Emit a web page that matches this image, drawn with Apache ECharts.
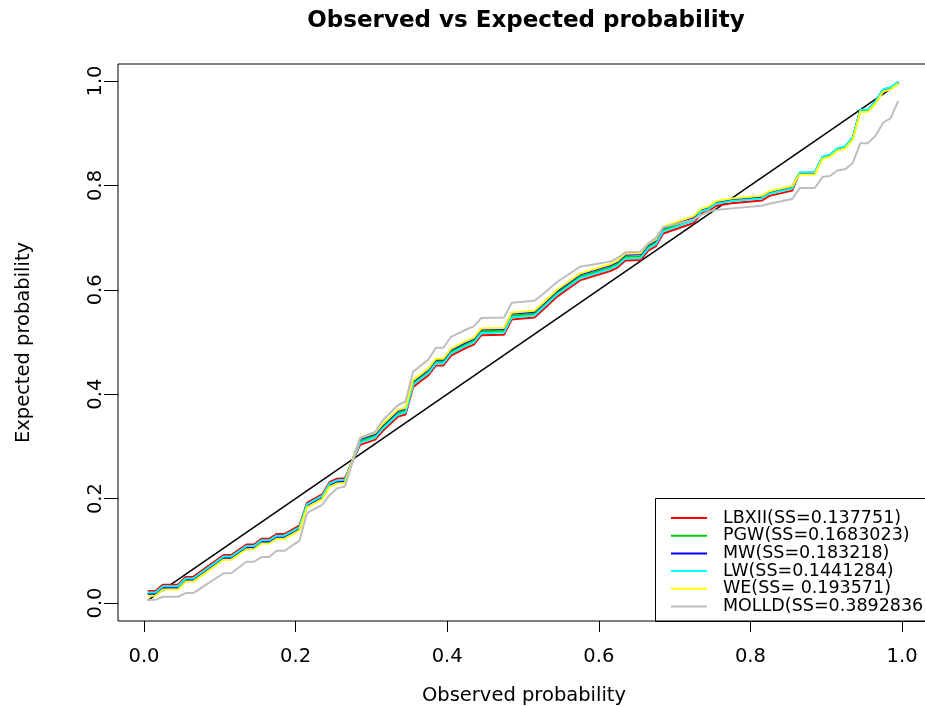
<!DOCTYPE html>
<html>
<head>
<meta charset="utf-8">
<script src="https://cdn.jsdelivr.net/npm/echarts@6/dist/echarts.min.js"></script>
<style>
  html, body { margin: 0; padding: 0; background: #fff; }
  #chart { width: 925px; height: 706px; }
</style>
</head>
<body>
<div id="chart"></div>
<script>
// Observed probability at each vertex of the P-P curves
const observed = [0.005, 0.015, 0.025, 0.045, 0.055, 0.065, 0.105, 0.115, 0.135, 0.145,
  0.155, 0.165, 0.175, 0.185, 0.205, 0.215, 0.235, 0.245, 0.255, 0.265,
  0.285, 0.305, 0.315, 0.335, 0.345, 0.355, 0.375, 0.385, 0.395, 0.405,
  0.425, 0.435, 0.445, 0.475, 0.485, 0.515, 0.525, 0.545, 0.575, 0.615,
  0.625, 0.635, 0.655, 0.665, 0.675, 0.685, 0.705, 0.725, 0.735, 0.745,
  0.755, 0.775, 0.815, 0.825, 0.855, 0.865, 0.885, 0.895, 0.905, 0.915,
  0.925, 0.935, 0.945, 0.955, 0.965, 0.975, 0.985, 0.995];

// Expected probability under each fitted model
const expLBXII = [0.023, 0.023, 0.035, 0.035, 0.050, 0.050, 0.092, 0.092, 0.112, 0.112,
  0.123, 0.123, 0.132, 0.132, 0.148, 0.192, 0.208, 0.232, 0.238, 0.239,
  0.303, 0.313, 0.330, 0.357, 0.361, 0.414, 0.436, 0.455, 0.455, 0.474,
  0.489, 0.495, 0.513, 0.514, 0.543, 0.547, 0.560, 0.587, 0.618, 0.636,
  0.643, 0.656, 0.657, 0.675, 0.683, 0.708, 0.718, 0.728, 0.746, 0.751,
  0.761, 0.766, 0.771, 0.780, 0.790, 0.824, 0.824, 0.854, 0.858, 0.870,
  0.874, 0.891, 0.944, 0.944, 0.960, 0.983, 0.987, 0.998];
const expPGW = [0.019, 0.019, 0.031, 0.031, 0.046, 0.046, 0.088, 0.088, 0.108, 0.108,
  0.119, 0.119, 0.128, 0.128, 0.144, 0.188, 0.204, 0.228, 0.234, 0.235,
  0.310, 0.320, 0.337, 0.364, 0.368, 0.421, 0.443, 0.462, 0.462, 0.481,
  0.496, 0.502, 0.520, 0.521, 0.550, 0.554, 0.567, 0.594, 0.625, 0.643,
  0.650, 0.663, 0.664, 0.682, 0.690, 0.715, 0.725, 0.735, 0.751, 0.756,
  0.766, 0.771, 0.776, 0.785, 0.795, 0.824, 0.824, 0.854, 0.858, 0.870,
  0.874, 0.891, 0.944, 0.944, 0.960, 0.983, 0.987, 0.998];
const expMW = [0.017, 0.017, 0.029, 0.029, 0.044, 0.044, 0.086, 0.086, 0.106, 0.106,
  0.117, 0.117, 0.126, 0.126, 0.142, 0.186, 0.202, 0.226, 0.232, 0.233,
  0.314, 0.324, 0.341, 0.368, 0.372, 0.425, 0.447, 0.466, 0.466, 0.485,
  0.500, 0.506, 0.524, 0.525, 0.554, 0.558, 0.571, 0.598, 0.629, 0.647,
  0.654, 0.667, 0.668, 0.686, 0.694, 0.719, 0.729, 0.739, 0.753, 0.758,
  0.768, 0.773, 0.778, 0.787, 0.797, 0.824, 0.824, 0.854, 0.858, 0.870,
  0.874, 0.891, 0.944, 0.944, 0.960, 0.983, 0.987, 0.998];
const expLW = [0.020, 0.020, 0.032, 0.032, 0.047, 0.047, 0.089, 0.089, 0.109, 0.109,
  0.120, 0.120, 0.129, 0.129, 0.145, 0.189, 0.205, 0.229, 0.235, 0.236,
  0.307, 0.317, 0.334, 0.361, 0.365, 0.418, 0.440, 0.459, 0.459, 0.478,
  0.493, 0.499, 0.517, 0.518, 0.547, 0.551, 0.564, 0.591, 0.622, 0.640,
  0.647, 0.660, 0.661, 0.679, 0.687, 0.712, 0.722, 0.732, 0.750, 0.755,
  0.765, 0.770, 0.775, 0.784, 0.794, 0.825, 0.825, 0.855, 0.859, 0.871,
  0.875, 0.892, 0.945, 0.945, 0.961, 0.984, 0.988, 0.999];
const expWE = [0.014, 0.014, 0.026, 0.026, 0.041, 0.041, 0.083, 0.083, 0.103, 0.103,
  0.114, 0.114, 0.123, 0.123, 0.139, 0.183, 0.199, 0.223, 0.229, 0.230,
  0.316, 0.326, 0.343, 0.370, 0.374, 0.427, 0.449, 0.468, 0.468, 0.487,
  0.502, 0.508, 0.526, 0.527, 0.556, 0.560, 0.573, 0.600, 0.631, 0.649,
  0.656, 0.669, 0.670, 0.688, 0.696, 0.721, 0.731, 0.741, 0.755, 0.760,
  0.770, 0.775, 0.780, 0.789, 0.799, 0.821, 0.821, 0.851, 0.855, 0.867,
  0.871, 0.888, 0.941, 0.941, 0.957, 0.980, 0.984, 0.995];
const expMOLLD = [0.006, 0.006, 0.012, 0.012, 0.019, 0.019, 0.057, 0.057, 0.079, 0.079,
  0.088, 0.088, 0.100, 0.100, 0.119, 0.172, 0.188, 0.207, 0.220, 0.223,
  0.316, 0.328, 0.350, 0.379, 0.386, 0.443, 0.466, 0.489, 0.489, 0.510,
  0.524, 0.530, 0.546, 0.547, 0.575, 0.579, 0.590, 0.615, 0.644, 0.654,
  0.661, 0.672, 0.673, 0.689, 0.699, 0.720, 0.727, 0.735, 0.743, 0.750,
  0.753, 0.756, 0.761, 0.765, 0.774, 0.795, 0.795, 0.816, 0.818, 0.829,
  0.831, 0.843, 0.881, 0.881, 0.895, 0.920, 0.929, 0.962];

// Reference diagonal (expected = observed)
const diagonal = [0.005, 0.995];

const seriesNames = ['LBXII(SS=0.137751)', 'PGW(SS=0.1683023)', 'MW(SS=0.183218)',
  'LW(SS=0.1441284)', 'WE(SS= 0.193571)', 'MOLLD(SS=0.3892836)'];
const seriesValues = [expLBXII, expPGW, expMW, expLW, expWE, expMOLLD];
const seriesColors = ['#ff0000', '#00cd00', '#0000ff', '#00ffff', '#ffff00', '#bebebe'];
const tickValues = [0, 0.2, 0.4, 0.6, 0.8, 1.0];

const FONT = 'DejaVu Sans';

function pairs(xs, ys) { return xs.map((x, i) => [x, ys[i]]); }

const chart = echarts.init(document.getElementById('chart'), null, { renderer: 'canvas' });

const series = [{
  type: 'line',
  name: 'diag',
  data: pairs(diagonal, diagonal),
  symbol: 'none',
  lineStyle: { color: '#000', width: 1.5 },
  z: 1,
  silent: true
}];
seriesNames.forEach((name, i) => {
  series.push({
    type: 'line',
    name: name,
    data: pairs(observed, seriesValues[i]),
    symbol: 'none',
    color: seriesColors[i],
    lineStyle: { color: seriesColors[i], width: 2 },
    z: 2 + i
  });
});

chart.setOption({
  animation: false,
  backgroundColor: '#fff',
  title: {
    text: 'Observed vs Expected probability',
    left: 521,
    top: 5,
    textAlign: 'center',
    textStyle: { fontFamily: FONT, fontWeight: 'bold', fontSize: 23, color: '#000' }
  },
  grid: {
    left: 118, top: 64, width: 812, bottom: 85,
    outerBoundsMode: 'none',
    show: true, borderColor: '#000', borderWidth: 1, backgroundColor: 'transparent'
  },
  xAxis: {
    type: 'value',
    min: -0.0343, max: 1.0369,
    name: 'Observed probability',
    nameLocation: 'middle',
    nameGap: 65,
    nameTextStyle: { fontFamily: FONT, fontSize: 19.5, color: '#000' },
    axisLine: { show: false, onZero: false },
    axisTick: { show: true, length: 11, customValues: tickValues, lineStyle: { color: '#000', width: 1 } },
    axisLabel: {
      customValues: tickValues, margin: 26,
      formatter: v => v.toFixed(1),
      fontFamily: FONT, fontSize: 19.5, color: '#000'
    },
    splitLine: { show: false }
  },
  yAxis: {
    type: 'value',
    min: -0.0345, max: 1.0326,
    name: 'Expected probability',
    nameLocation: 'middle',
    nameRotate: 90,
    nameGap: 84,
    nameTextStyle: { fontFamily: FONT, fontSize: 19.5, color: '#000' },
    axisLine: { show: false, onZero: false },
    axisTick: { show: true, length: 14, customValues: tickValues, lineStyle: { color: '#000', width: 1 } },
    axisLabel: {
      customValues: tickValues, rotate: 90, margin: 12,
      formatter: v => v.toFixed(1),
      fontFamily: FONT, fontSize: 19.5, color: '#000'
    },
    splitLine: { show: false }
  },
  legend: {
    orient: 'vertical',
    left: 671,
    top: 509,
    padding: 0,
    data: seriesNames.map((n, i) => ({ name: n, icon: 'rect', itemStyle: { color: seriesColors[i] } })),
    itemWidth: 36,
    itemHeight: 2,
    itemGap: -0.3,
    textStyle: { fontFamily: FONT, fontSize: 17.5, lineHeight: 16.2, color: '#000', padding: [0, 0, 0, 11] },
    selectedMode: false
  },
  graphic: [{
    type: 'rect',
    shape: { x: 655.5, y: 498.5, width: 300, height: 123 },
    style: { fill: 'transparent', stroke: '#000', lineWidth: 1 },
    z: 0
  }],
  series: series
});
</script>
</body>
</html>
